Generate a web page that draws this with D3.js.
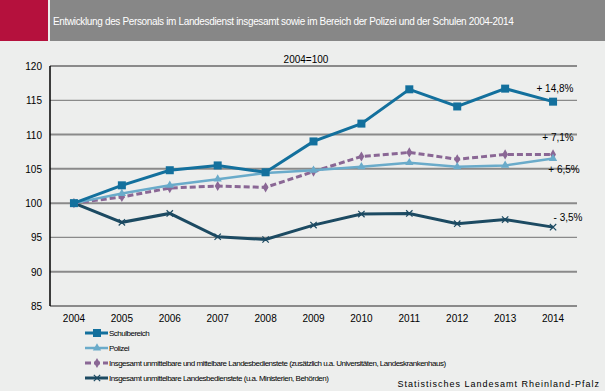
<!DOCTYPE html>
<html>
<head>
  <meta charset="utf-8">
  <style>
    body { margin: 0; background: #edeeed; }
    svg { display: block; font-family: "Liberation Sans", Arial, sans-serif; }
  </style>
</head>
<body>
  <div id="chart"></div>
  <script src="https://d3js.org/d3.v7.min.js"></script>
  <script>
    var years = ["2004","2005","2006","2007","2008","2009","2010","2011","2012","2013","2014"]
    var schule = [100, 102.6, 104.8, 105.5, 104.5, 109.0, 111.6, 116.6, 114.1, 116.7, 114.8]
    var polizei = [100, 101.4, 102.6, 103.5, 104.4, 104.8, 105.3, 105.9, 105.3, 105.5, 106.5]
    var gesamt = [100, 100.9, 102.2, 102.5, 102.3, 104.6, 106.8, 107.4, 106.4, 107.1, 107.1]
    var unmittelbar = [100, 97.2, 98.5, 95.1, 94.7, 96.8, 98.4, 98.5, 97.0, 97.6, 96.5]
    var yTicks = [85, 90, 95, 100, 105, 110, 115, 120]
    var seriesNames = ["Schulbereich", "Polizei",
      "Insgesamt unmittelbare und mittelbare Landesbedienstete (zusätzlich u.a. Universitäten, Landeskrankenhaus)",
      "Insgesamt unmittelbare Landesbedienstete (u.a. Ministerien, Behörden)"]
    var endLabels = ["+ 14,8%", "+ 6,5%", "+ 7,1%", "- 3,5%"]

    var W = 605, H = 391
    var svg = d3.select("#chart").append("svg").attr("width", W).attr("height", H)

    // header band
    svg.append("rect").attr("x", 0).attr("y", 0).attr("width", 48).attr("height", 41).attr("fill", "#b5113d")
    svg.append("rect").attr("x", 50).attr("y", 0).attr("width", W - 50).attr("height", 41).attr("fill", "#878787")
    svg.append("text").attr("x", 53).attr("y", 25).attr("fill", "#fff")
      .style("font-size", "10px").style("letter-spacing", "-0.35px")
      .text("Entwicklung des Personals im Landesdienst insgesamt sowie im Bereich der Polizei und der Schulen 2004-2014")

    var plotL = 50, plotR = 577, plotT = 66, plotB = 306

    var x = d3.scalePoint().domain(years).range([plotL, plotR]).padding(0.5)
    var y = d3.scaleLinear().domain([85, 120]).range([plotB, plotT])

    // gridlines
    svg.append("g").selectAll("line").data(yTicks).join("line")
      .attr("x1", plotL).attr("x2", plotR)
      .attr("y1", d => y(d)).attr("y2", d => y(d))
      .attr("stroke", "#8a8a8a").attr("stroke-width", d => d % 10 == 0 || d == 105 || d == 85 ? 2 : 1.3)

    // y axis
    svg.append("line").attr("x1", plotL).attr("x2", plotL).attr("y1", plotT).attr("y2", plotB)
      .attr("stroke", "#000").attr("stroke-width", 1.5)
    svg.append("g").selectAll("text").data(yTicks).join("text")
      .attr("x", 42).attr("y", d => y(d) + 4).attr("text-anchor", "end")
      .style("font-size", "10px").text(d => d)

    // x labels
    svg.append("g").selectAll("text").data(years).join("text")
      .attr("x", d => x(d)).attr("y", 322).attr("text-anchor", "middle")
      .style("font-size", "10px").text(d => d)

    svg.append("text").attr("x", 306).attr("y", 63).attr("text-anchor", "middle")
      .style("font-size", "10px").text("2004=100")

    var series = [
      {name: seriesNames[0], values: schule, color: "#13709d", width: 3, dash: null, marker: "square"},
      {name: seriesNames[1], values: polizei, color: "#6aabca", width: 2.5, dash: null, marker: "triangle"},
      {name: seriesNames[2], values: gesamt, color: "#8a6795", width: 3, dash: "6,3", marker: "diamond"},
      {name: seriesNames[3], values: unmittelbar, color: "#1c4a62", width: 3, dash: null, marker: "cross"}
    ]
    var drawOrder = [3, 2, 1, 0]

    var line = d3.line().x((d, i) => x(years[i])).y(d => y(d))

    function marker(g, s, cx, cy) {
      if (s.marker == "square") {
        g.append("rect").attr("x", cx - 4).attr("y", cy - 4).attr("width", 8).attr("height", 8).attr("fill", s.color)
      } else if (s.marker == "triangle") {
        g.append("path").attr("d", d3.symbol(d3.symbolTriangle, 30)()).attr("transform", "translate(" + cx + "," + cy + ")").attr("fill", s.color)
      } else if (s.marker == "diamond") {
        g.append("path").attr("d", d3.symbol(d3.symbolDiamond, 30)()).attr("transform", "translate(" + cx + "," + cy + ")").attr("fill", s.color)
      } else {
        g.append("path").attr("d", d3.symbol(d3.symbolX, 28)()).attr("transform", "translate(" + cx + "," + cy + ")")
          .attr("stroke", s.color).attr("stroke-width", 1.2).attr("fill", "none")
      }
    }

    drawOrder.forEach(function(k) {
      var s = series[k]
      var g = svg.append("g")
      g.append("path").datum(s.values).attr("d", line)
        .attr("fill", "none").attr("stroke", s.color).attr("stroke-width", s.width)
        .attr("stroke-dasharray", s.dash)
      s.values.forEach(function(v, i) { marker(g, s, x(years[i]), y(v)) })
    })

    // end labels
    var labelPos = [[555, 92], [564, 173], [558, 141], [568, 221]]
    endLabels.forEach(function(t, i) {
      svg.append("text").attr("x", labelPos[i][0]).attr("y", labelPos[i][1]).attr("text-anchor", "middle")
        .style("font-size", "10px").text(t)
    })

    // legend
    series.forEach(function(s, i) {
      var ly = 333 + i * 15
      var g = svg.append("g")
      g.append("line").attr("x1", 85).attr("x2", 108).attr("y1", ly).attr("y2", ly)
        .attr("stroke", s.color).attr("stroke-width", s.width).attr("stroke-dasharray", s.dash)
      marker(g, s, 97, ly)
      g.append("text").attr("x", 109).attr("y", ly + 3).style("font-size", "8px")
        .style("letter-spacing", "-0.5px").text(s.name)
    })

    svg.append("text").attr("x", 600).attr("y", 387).attr("text-anchor", "end")
      .style("font-size", "9px").style("letter-spacing", "1px").text("Statistisches Landesamt Rheinland-Pfalz")
  </script>
</body>
</html>
